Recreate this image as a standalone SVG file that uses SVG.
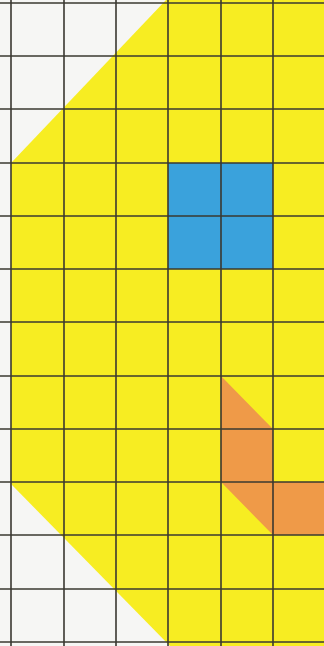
<svg xmlns="http://www.w3.org/2000/svg" width="324" height="646" viewBox="0 0 324 646">
<style>
.grid line{stroke:#3a3830;stroke-width:1.6}
</style>
<rect width="324" height="646" fill="#f6f6f4"/>
<g id="yellow-shape"><polygon points="166,0 324,0 324,646 170,646 11,484 11,163" fill="#f7ed22"/></g>
<g id="blue-square"><rect x="168" y="163" width="105" height="106" fill="#3aa2dc"/></g>
<g id="orange-shape"><polygon points="221,376 273,429 273,482 324,482 324,535 273,535 221,482" fill="#ef9a48"/></g>
<g class="grid" id="grid">
<line x1="11" y1="0" x2="11" y2="646"/>
<line x1="64" y1="0" x2="64" y2="646"/>
<line x1="116" y1="0" x2="116" y2="646"/>
<line x1="168" y1="0" x2="168" y2="646"/>
<line x1="221" y1="0" x2="221" y2="646"/>
<line x1="273" y1="0" x2="273" y2="646"/>
<line x1="0" y1="3" x2="324" y2="3"/>
<line x1="0" y1="56" x2="324" y2="56"/>
<line x1="0" y1="109" x2="324" y2="109"/>
<line x1="0" y1="163" x2="324" y2="163"/>
<line x1="0" y1="216" x2="324" y2="216"/>
<line x1="0" y1="269" x2="324" y2="269"/>
<line x1="0" y1="322" x2="324" y2="322"/>
<line x1="0" y1="376" x2="324" y2="376"/>
<line x1="0" y1="429" x2="324" y2="429"/>
<line x1="0" y1="482" x2="324" y2="482"/>
<line x1="0" y1="535" x2="324" y2="535"/>
<line x1="0" y1="589" x2="324" y2="589"/>
<line x1="0" y1="642" x2="324" y2="642"/>
</g>
</svg>
